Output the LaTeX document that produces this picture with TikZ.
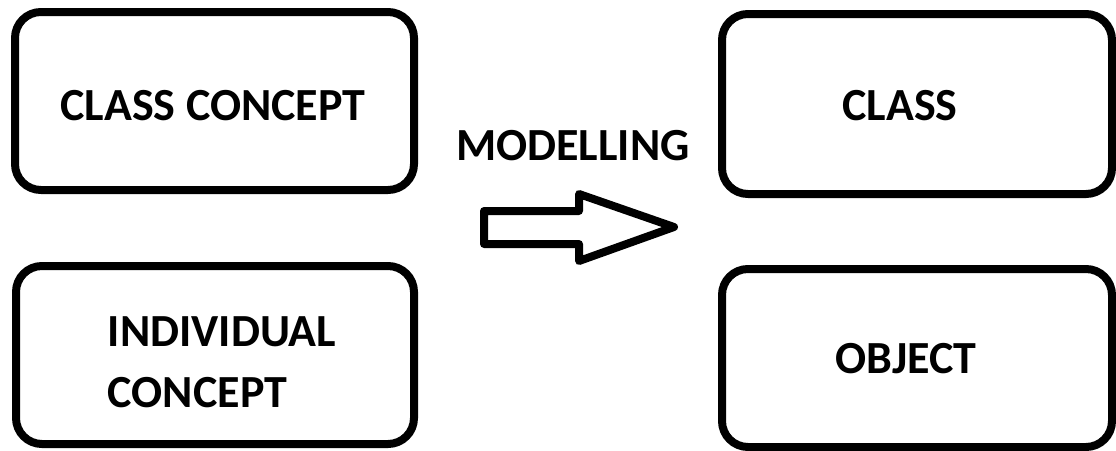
\documentclass[tikz,border=0pt]{standalone}
\usepackage{fontspec}
\setmainfont{Carlito}
\begin{document}
\begin{tikzpicture}[x=1pt,y=-1pt,
  conceptbox/.style={draw=black, line width=8pt, rounded corners=26pt, fill=white},
  label/.style={inner sep=0pt, font=\fontsize{46}{61}\selectfont\bfseries},
  blockarrow/.style={draw=black, line width=8pt, line join=round, fill=white}]
  \useasboundingbox (0,0) rectangle (1116,450);
  % left column: concepts
  \draw[conceptbox] (15,12) rectangle (414,190);
  \draw[conceptbox] (16,266) rectangle (414,444);
  % right column: model elements
  \draw[conceptbox] (722,14) rectangle (1112,194);
  \draw[conceptbox] (722,269) rectangle (1112,447);
  % labels
  \node[label, anchor=base] (cc) at (213,120) {CLASS CONCEPT};
  \node[label, anchor=center, align=left] (ic) at (222,362) {INDIVIDUAL\\CONCEPT};
  \node[label, anchor=base] (cl) at (900,120) {CLASS};
  \node[label, anchor=base] (ob) at (906,373) {OBJECT};
  \node[label, anchor=base] (mo) at (573,160) {MODELLING};
  % hollow arrow
  \draw[blockarrow] (484,211) -- (579,211) -- (579,194) -- (674,227)
    -- (579,261) -- (579,244) -- (484,244) -- cycle;
\end{tikzpicture}
\end{document}
